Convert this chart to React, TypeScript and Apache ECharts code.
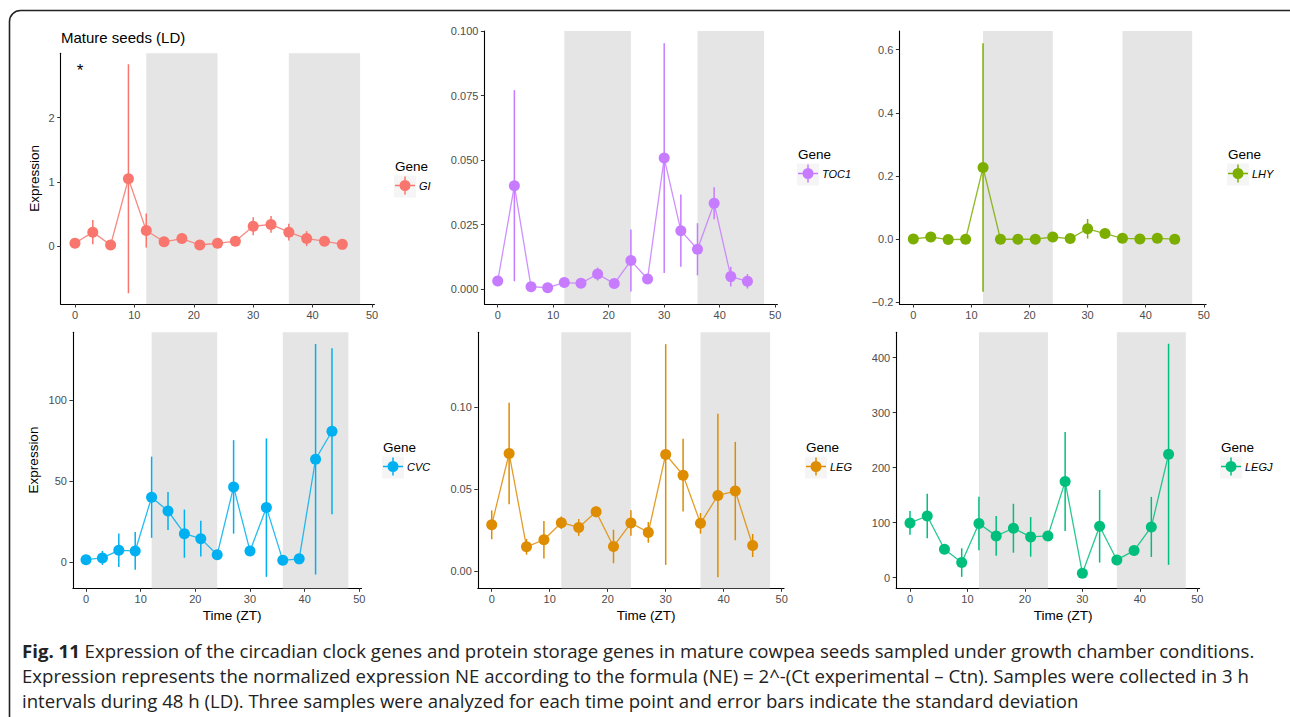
import React, { useEffect, useRef } from "react";
import * as echarts from "echarts";

// ---------------- data ----------------
const TIME = [0, 3, 6, 9, 12, 15, 18, 21, 24, 27, 30, 33, 36, 39, 42, 45];
const X_TICKS = [0, 10, 20, 30, 40, 50];
const DARK_PERIODS = [[12, 24], [36, 48]];
const LEGEND_TITLE = "Gene";
const X_TITLE = "Time (ZT)";
const Y_TITLE = "Expression";
const PANEL_TITLE = "Mature seeds (LD)";
const STAR = "*";

const GI_MEAN = [0.047, 0.22, 0.02, 1.05, 0.245, 0.07, 0.12, 0.02, 0.047, 0.08, 0.31, 0.34, 0.22, 0.12, 0.08, 0.03];
const GI_SD = [0.02, 0.19, 0.02, 1.78, 0.265, 0.03, 0.04, 0.02, 0.02, 0.04, 0.14, 0.13, 0.13, 0.115, 0.04, 0.03];

const TOC1_MEAN = [0.0032, 0.0401, 0.001, 0.0006, 0.0026, 0.0023, 0.0059, 0.0022, 0.0111, 0.004, 0.0508, 0.0227, 0.0155, 0.0333, 0.0049, 0.0031];
const TOC1_SD = [0.001, 0.037, 0.0005, 0.0004, 0.001, 0.001, 0.0025, 0.001, 0.012, 0.001, 0.0445, 0.014, 0.0101, 0.0062, 0.0038, 0.0028];

const LHY_MEAN = [0.001, 0.007, -0.001, 0.0, 0.227, 0.0, 0.0, 0.0, 0.007, 0.002, 0.033, 0.018, 0.003, 0.001, 0.003, 0.0];
const LHY_SD = [0.002, 0.004, 0.001, 0.001, 0.393, 0.001, 0.001, 0.002, 0.003, 0.002, 0.031, 0.0155, 0.002, 0.001, 0.002, 0.001];

const CVC_MEAN = [1.4, 2.5, 7.2, 6.8, 40, 31.5, 17.5, 14.4, 4.5, 46.4, 6.8, 33.6, 1.0, 1.9, 63.5, 80.8];
const CVC_SD = [1, 4.3, 10.4, 11.7, 25.1, 11.7, 14.9, 11, 2.7, 28.9, 2, 42.8, 1, 1.5, 71.3, 51.3];

const LEG_MEAN = [0.028, 0.0715, 0.0146, 0.0189, 0.0293, 0.0264, 0.036, 0.0148, 0.0291, 0.0234, 0.0709, 0.0583, 0.0289, 0.0459, 0.0486, 0.0154];
const LEG_SD = [0.0088, 0.031, 0.0048, 0.0115, 0.0038, 0.0051, 0.0033, 0.0102, 0.0078, 0.0063, 0.0673, 0.0222, 0.0063, 0.0498, 0.03, 0.007];

const LEGJ_MEAN = [99.4, 112, 51.5, 27.3, 98.2, 75.8, 89.7, 74, 75.8, 174.5, 7.9, 93.3, 32.1, 49.1, 92.1, 224.2];
const LEGJ_SD = [21.7, 40.6, 3, 26, 48.7, 36, 44.5, 36, 4, 90, 3, 66, 4, 4, 54.6, 201];

const GI_TICKS = [0, 1, 2];
const TOC1_TICKS = [0, 0.025, 0.05, 0.075, 0.1];
const LHY_TICKS = [-0.2, 0, 0.2, 0.4, 0.6];
const CVC_TICKS = [0, 50, 100];
const LEG_TICKS = [0, 0.05, 0.1];
const LEGJ_TICKS = [0, 100, 200, 300, 400];

const CAPTION_BOLD = "Fig. 11";
const CAPTION_LINES = [
  " Expression of the circadian clock genes and protein storage genes in mature cowpea seeds sampled under growth chamber conditions.",
  "Expression represents the normalized expression NE according to the formula (NE) = 2^-(Ct experimental \u2013 Ctn). Samples were collected in 3 h",
  "intervals during 48 h (LD). Three samples were analyzed for each time point and error bars indicate the standard deviation",
];

// ---------------- layout / style ----------------
const FONT = "Arial, Liberation Sans, Helvetica, sans-serif";
const CAP_FONT = "Open Sans, Noto Sans, sans-serif";

type Panel = {
  gene: string; color: string; mean: number[]; sd: number[]; ticks: number[]; fmt: (v: number) => string;
  left: number; top: number; width: number; height: number; ymin: number; ymax: number;
  legendX: number; legendY: number; yTitle?: { x: number; y: number }; xTitle?: { x: number; y: number };
};

const minus = (s: string) => s.replace("-", "\u2212");

const PANELS: Panel[] = [
  { gene: "GI", color: "#F8766D", mean: GI_MEAN, sd: GI_SD, ticks: GI_TICKS, fmt: (v) => minus(v.toFixed(0)),
    left: 60.7, top: 53.3, width: 313.7, height: 250.7, ymin: -0.897, ymax: 3.0,
    legendX: 395, legendY: 166, yTitle: { x: 34, y: 178.3 } },
  { gene: "TOC1", color: "#C77CFF", mean: TOC1_MEAN, sd: TOC1_SD, ticks: TOC1_TICKS, fmt: (v) => minus(v.toFixed(3)),
    left: 484.4, top: 31, width: 293, height: 273, ymin: -0.0057, ymax: 0.1,
    legendX: 798, legendY: 154 },
  { gene: "LHY", color: "#7CAE00", mean: LHY_MEAN, sd: LHY_SD, ticks: LHY_TICKS, fmt: (v) => minus(v.toFixed(1)),
    left: 899.4, top: 31, width: 306.7, height: 273, ymin: -0.205, ymax: 0.659,
    legendX: 1228, legendY: 154 },
  { gene: "CVC", color: "#00B0F0", mean: CVC_MEAN, sd: CVC_SD, ticks: CVC_TICKS, fmt: (v) => minus(v.toFixed(0)),
    left: 72.9, top: 332.3, width: 288.6, height: 256, ymin: -16.3, ymax: 142,
    legendX: 383, legendY: 447, yTitle: { x: 33.5, y: 460 }, xTitle: { x: 232, y: 615 } },
  { gene: "LEG", color: "#DE8C00", mean: LEG_MEAN, sd: LEG_SD, ticks: LEG_TICKS, fmt: (v) => minus(v.toFixed(2)),
    left: 477.8, top: 332.3, width: 306.2, height: 256, ymin: -0.0107, ymax: 0.1454,
    legendX: 806, legendY: 447, xTitle: { x: 646, y: 615 } },
  { gene: "LEGJ", color: "#00BF7D", mean: LEGJ_MEAN, sd: LEGJ_SD, ticks: LEGJ_TICKS, fmt: (v) => minus(v.toFixed(0)),
    left: 896.2, top: 332.3, width: 303.4, height: 256, ymin: -19.5, ymax: 446,
    legendX: 1221, legendY: 447, xTitle: { x: 1063, y: 615 } },
];

const LEGEND_ICON =
  "path://M0,9.25 H20 V10.75 H0 Z M9.25,1 H10.75 V19 H9.25 Z M15.5,10 A5.5,5.5 0 1 1 4.5,10 A5.5,5.5 0 1 1 15.5,10 Z";

function buildOption() {
  const grid: any[] = [];
  const xAxis: any[] = [];
  const yAxis: any[] = [];
  const series: any[] = [];
  const legend: any[] = [];
  const graphic: any[] = [];

  PANELS.forEach((p, i) => {
    grid.push({ left: p.left, top: p.top, width: p.width, height: p.height, containLabel: false });
    xAxis.push({
      type: "value", gridIndex: i, min: -2.4, max: 50.4,
      axisLine: { show: true, onZero: false, lineStyle: { color: "#000", width: 1.1 } },
      axisTick: { show: true, length: 3.5, customValues: X_TICKS, lineStyle: { color: "#333", width: 1 } },
      axisLabel: { show: true, customValues: X_TICKS, color: "#4D4D4D", fontSize: 11, fontFamily: FONT, margin: 5 },
      splitLine: { show: false },
    });
    yAxis.push({
      type: "value", gridIndex: i, min: p.ymin, max: p.ymax,
      axisLine: { show: true, onZero: false, lineStyle: { color: "#000", width: 1.1 } },
      axisTick: { show: true, length: 3.5, customValues: p.ticks, lineStyle: { color: "#333", width: 1 } },
      axisLabel: { show: true, customValues: p.ticks, color: "#4D4D4D", fontSize: 11, fontFamily: FONT, margin: 6,
        formatter: (v: number) => p.fmt(v) },
      splitLine: { show: false },
    });

    const lineData = TIME.map((t, k) => [t, p.mean[k]]);
    const errData = TIME.map((t, k) => [t, p.mean[k] - p.sd[k], p.mean[k] + p.sd[k]]);

    series.push({
      type: "custom", name: p.gene + "_err", xAxisIndex: i, yAxisIndex: i, z: 3,
      data: errData, encode: { x: 0, y: [1, 2] }, silent: true,
      renderItem: (params: any, api: any) => {
        const a = api.coord([api.value(0), api.value(1)]);
        const b = api.coord([api.value(0), api.value(2)]);
        return { type: "line", shape: { x1: a[0], y1: a[1], x2: b[0], y2: b[1] },
          style: { stroke: p.color, lineWidth: 1.5 } };
      },
      markArea: {
        silent: true, itemStyle: { color: "#E5E5E5" }, z: 1,
        data: DARK_PERIODS.map(([a, b]) => [{ xAxis: a }, { xAxis: b }]),
      },
    });
    series.push({
      type: "line", name: p.gene, xAxisIndex: i, yAxisIndex: i, z: 4,
      data: lineData, symbol: "circle", symbolSize: 11, showSymbol: true,
      lineStyle: { color: p.color, width: 1.3, opacity: 0.85 },
      itemStyle: { color: p.color },
      emphasis: { disabled: true },
    });

    legend.push({
      data: [p.gene], left: p.legendX, top: p.legendY + 10.5, padding: 0, orient: "vertical",
      icon: LEGEND_ICON, itemWidth: 20, itemHeight: 20, itemGap: 4, selectedMode: false,
      textStyle: { fontStyle: "italic", fontSize: 11, color: "#000", fontFamily: FONT, padding: [0, 0, 0, -1] },
    });
    graphic.push({
      type: "rect", shape: { x: p.legendX - 1, y: p.legendY + 9.5, width: 22, height: 22 },
      style: { fill: "#F5F5F5" }, z: -10, silent: true,
    });
    graphic.push({
      type: "text", x: p.legendX, y: p.legendY, silent: true,
      style: { text: LEGEND_TITLE, fontSize: 13.5, fontFamily: FONT, fill: "#000", verticalAlign: "middle", align: "left" },
    });
    if (p.yTitle) {
      graphic.push({
        type: "text", x: p.yTitle.x, y: p.yTitle.y, rotation: Math.PI / 2, silent: true,
        style: { text: Y_TITLE, fontSize: 13.5, fontFamily: FONT, fill: "#000", align: "center", verticalAlign: "middle" },
      });
    }
    if (p.xTitle) {
      graphic.push({
        type: "text", x: p.xTitle.x, y: p.xTitle.y, silent: true,
        style: { text: X_TITLE, fontSize: 13.5, fontFamily: FONT, fill: "#000", align: "center", verticalAlign: "middle" },
      });
    }
  });

  graphic.push({
    type: "text", x: 61, y: 37, silent: true,
    style: { text: PANEL_TITLE, fontSize: 15, fontFamily: FONT, fill: "#000", verticalAlign: "middle" },
  });
  graphic.push({
    type: "text", x: 80, y: 70, silent: true,
    style: { text: STAR, fontSize: 17, fontFamily: FONT, fill: "#000", align: "center", verticalAlign: "middle" },
  });
  graphic.push({
    type: "rect", silent: true, shape: { x: 9.5, y: 10.5, width: 1292, height: 730, r: 11 },
    style: { fill: "none", stroke: "#222", lineWidth: 1.6 },
  });
  CAPTION_LINES.forEach((line, k) => {
    graphic.push({
      type: "text", x: 22, y: 650 + k * 25, silent: true,
      style: {
        text: k === 0 ? `{b|${CAPTION_BOLD}}${line}` : line,
        fontSize: 18.6, fontFamily: CAP_FONT, fill: "#222", verticalAlign: "middle",
        rich: { b: { fontWeight: "bold", fontSize: 18.6, fontFamily: CAP_FONT, fill: "#222" } },
      },
    });
  });

  return { animation: false, backgroundColor: "#fff", grid, xAxis, yAxis, series, legend, graphic,
    textStyle: { fontFamily: FONT } };
}

export default function App() {
  const ref = useRef<HTMLDivElement>(null);
  useEffect(() => {
    if (!ref.current) return;
    const chart = echarts.init(ref.current, undefined, { renderer: "svg" });
    chart.setOption(buildOption() as any);
    return () => chart.dispose();
  }, []);
  return <div ref={ref} style={{ position: "absolute", left: 0, top: 0, width: 1290, height: 717 }} />;
}
